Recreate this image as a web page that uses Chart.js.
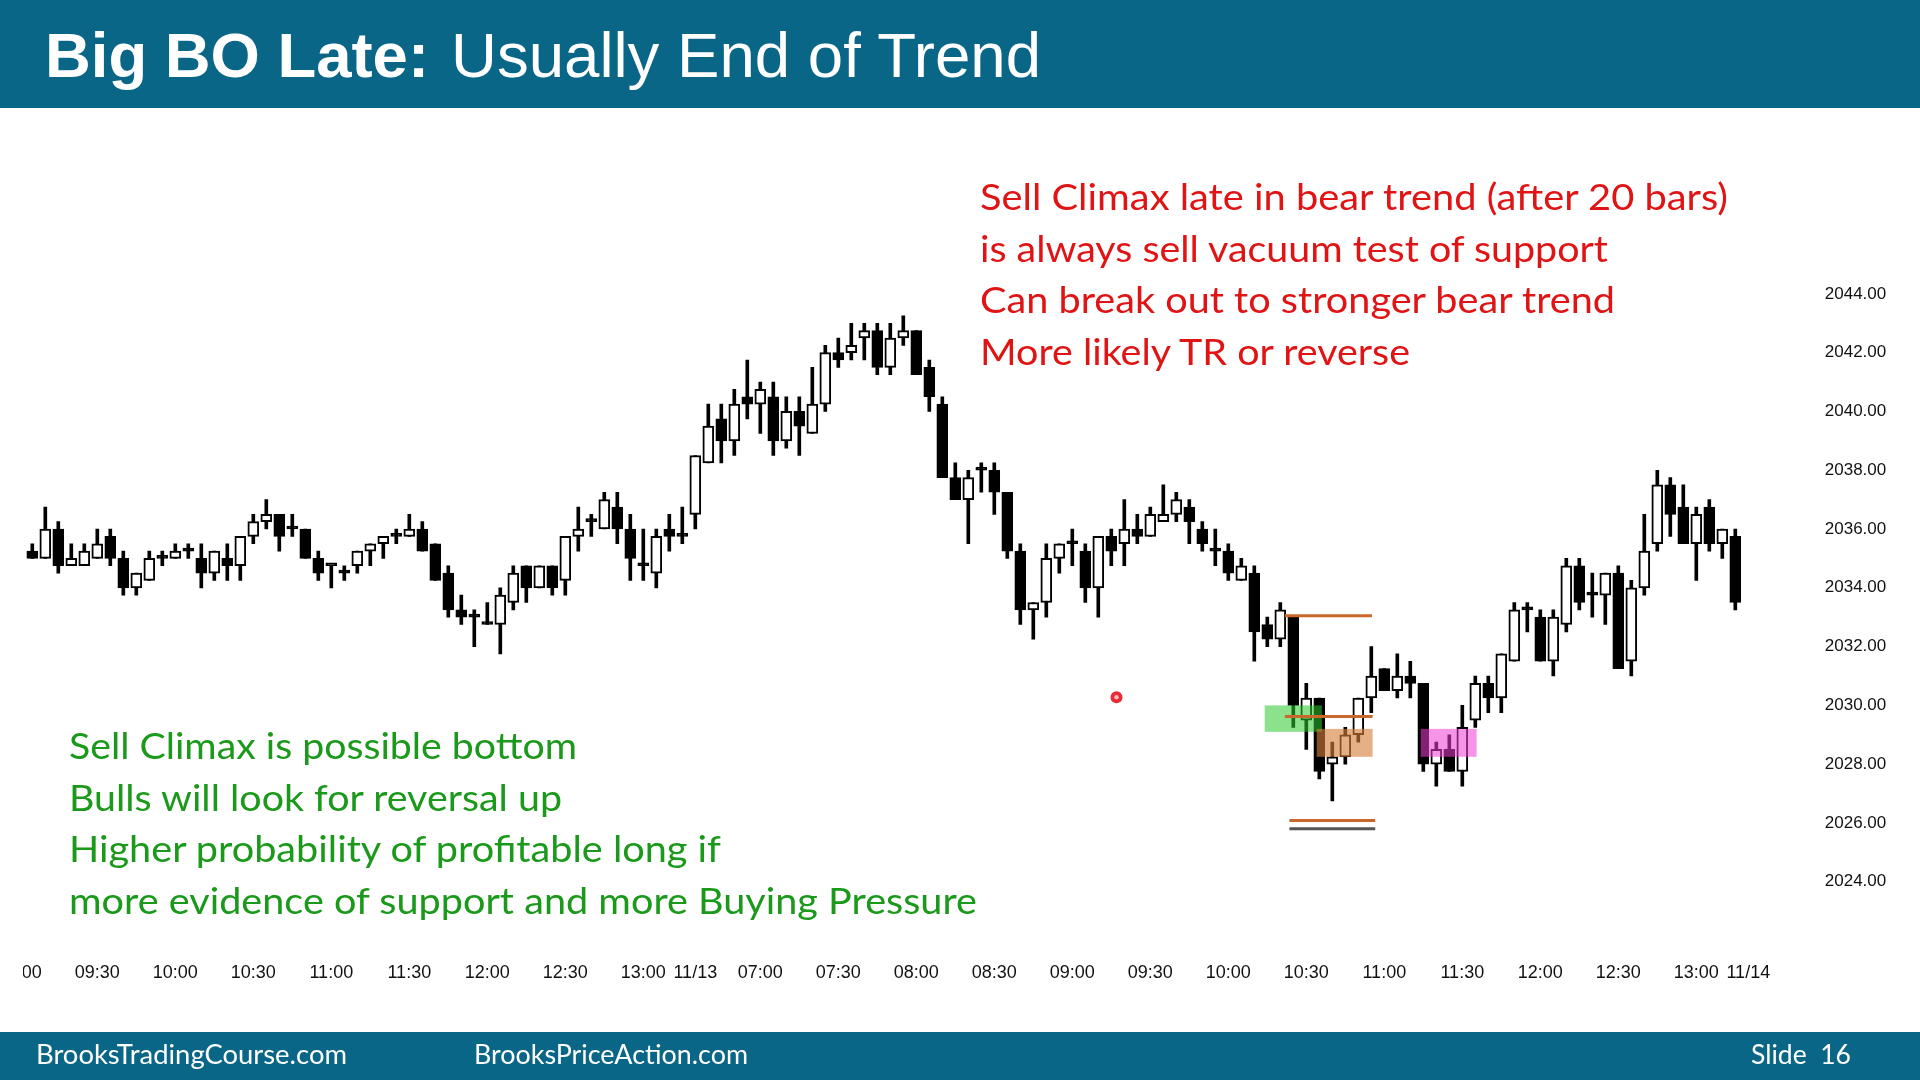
<!DOCTYPE html>
<html><head><meta charset="utf-8">
<script src="https://cdn.jsdelivr.net/npm/chart.js@4.4.1/dist/chart.umd.min.js"></script>
<style>
html,body{margin:0;padding:0;background:#fff;width:1920px;height:1080px;overflow:hidden;}
#header{position:absolute;left:0;top:0;width:1920px;height:108px;background:#0a6686;}
#footer{position:absolute;left:0;top:1032px;width:1920px;height:48px;background:#0a6686;}
#c{position:absolute;left:0;top:0;width:1920px;height:1080px;clip-path:inset(0 0 0 23px);}
#txt{position:absolute;left:0;top:0;}
</style></head><body>
<div id="header"></div><div id="footer"></div>
<canvas id="c" width="1920" height="1080"></canvas>
<svg id="txt" width="1920" height="1080" xmlns="http://www.w3.org/2000/svg">
  <text x="45" y="77" font-family="Liberation Sans, Arial, sans-serif" font-weight="bold" font-size="63" fill="#fff" textLength="384" lengthAdjust="spacingAndGlyphs">Big BO Late:</text>
  <text x="451" y="77" font-family="Liberation Sans, Arial, sans-serif" font-size="63" fill="#fff" textLength="590" lengthAdjust="spacingAndGlyphs">Usually End of Trend</text>

  <g font-family="Lato, 'Open Sans', sans-serif" font-size="37" fill="#e01414">
    <text x="980" y="210" textLength="748" lengthAdjust="spacingAndGlyphs">Sell Climax late in bear trend (after 20 bars)</text>
    <text x="980" y="261.5" textLength="628" lengthAdjust="spacingAndGlyphs">is always sell vacuum test of support</text>
    <text x="980" y="313" textLength="635" lengthAdjust="spacingAndGlyphs">Can break out to stronger bear trend</text>
    <text x="980" y="364.5" textLength="430" lengthAdjust="spacingAndGlyphs">More likely TR or reverse</text>
  </g>
  <g font-family="Lato, 'Open Sans', sans-serif" font-size="37" fill="#1a991a">
    <text x="69" y="759" textLength="508" lengthAdjust="spacingAndGlyphs">Sell Climax is possible bottom</text>
    <text x="69" y="810.5" textLength="493" lengthAdjust="spacingAndGlyphs">Bulls will look for reversal up</text>
    <text x="69" y="862" textLength="652" lengthAdjust="spacingAndGlyphs">Higher probability of profitable long if</text>
    <text x="69" y="913.5" textLength="908" lengthAdjust="spacingAndGlyphs">more evidence of support and more Buying Pressure</text>
  </g>
  <g font-family="Lato, 'Open Sans', sans-serif" font-size="26" fill="#fff">
    <text x="36" y="1064" textLength="311" lengthAdjust="spacingAndGlyphs">BrooksTradingCourse.com</text>
    <text x="474" y="1064" textLength="274" lengthAdjust="spacingAndGlyphs">BrooksPriceAction.com</text>
    <text x="1751" y="1064" textLength="100" lengthAdjust="spacingAndGlyphs" xml:space="preserve">Slide  16</text>
  </g>
</svg>
<script>
// ---------- DATA ----------
// 5-minute bars: 11/12 09:05-13:15 (51 bars) then 11/13 06:35-13:15 (81 bars)
const opens = [
 2035.25,2035.0,2036.0,2034.75,2034.75,2035.0,2035.75,2035.0,2034.0,2034.25,2035.0,2035.0,2035.25,2035.0,2034.5,2035.0,2034.75,2035.75,2036.25,2036.5,2036.0,2036.0,2035.0,2034.75,2034.5,2034.75,
 2035.25,2035.5,2035.75,2035.75,2036.0,2035.5,2034.5,2033.25,2033.0,2032.75,2032.75,2033.5,2034.75,2034.0,2034.75,2034.25,2035.75,2036.25,2036.0,2036.75,2036.0,2034.75,2034.5,2036.0,2035.75,
 2036.5,2038.25,2039.75,2039.0,2040.5,2040.25,2040.5,2039.0,2040.0,2039.25,2040.25,2042.0,2042.0,2042.5,2042.75,2041.5,2042.5,2042.75,2041.5,2040.25,
 2037.75,2037.0,2038.0,2038.0,2037.25,2035.25,2033.25,2033.5,2035.0,2035.5,2035.25,2034.0,2035.75,2035.5,2036.0,2035.75,2036.25,2036.5,2036.75,2036.0,
 2035.25,2035.25,2034.25,2034.5,2032.75,2032.25,2033.0,2029.5,2030.25,2028.0,2028.25,2029.0,2030.25,2031.25,2030.5,2031.0,2030.75,2028.0,2028.5,2027.75,
 2029.5,2030.75,2030.25,2031.5,2033.25,2033.0,2031.5,2032.75,2034.75,2033.75,2033.75,2034.5,2031.5,2034.0,2035.5,2037.5,2036.75,2035.5,2036.75,2035.5,2035.75
];
const highs = [
 2035.5,2036.75,2036.25,2035.5,2035.5,2036.0,2036.0,2035.25,2034.5,2035.25,2035.25,2035.5,2035.5,2035.5,2035.25,2035.5,2035.75,2036.5,2037.0,2036.5,2036.5,2036.0,2035.25,2034.75,2034.75,2035.25,
 2035.5,2035.75,2036.0,2036.5,2036.25,2035.5,2034.75,2033.75,2033.25,2033.5,2034.0,2034.75,2034.75,2034.75,2034.75,2035.75,2036.75,2036.5,2037.25,2037.25,2036.5,2036.0,2036.0,2036.5,2036.75,
 2038.5,2040.25,2040.25,2040.75,2041.75,2041.0,2041.0,2040.5,2040.5,2041.5,2042.25,2042.5,2043.0,2043.0,2043.0,2043.0,2043.25,2042.75,2041.75,2040.5,
 2038.25,2038.0,2038.25,2038.25,2037.25,2035.5,2033.5,2035.5,2035.5,2036.0,2035.5,2035.75,2036.0,2037.0,2036.5,2036.75,2037.5,2037.25,2037.0,2036.25,
 2036.0,2035.5,2035.0,2034.75,2033.0,2033.5,2033.0,2030.75,2030.25,2028.75,2029.25,2030.25,2032.0,2031.25,2031.75,2031.5,2030.75,2028.75,2029.0,2030.0,
 2031.0,2031.0,2031.75,2033.5,2033.5,2033.25,2033.25,2035.0,2035.0,2034.5,2034.5,2034.75,2034.25,2036.5,2038.0,2037.75,2037.5,2036.75,2037.0,2036.0,2036.0
];
const lows = [
 2035.0,2035.0,2034.5,2034.75,2034.75,2035.0,2034.75,2033.75,2033.75,2034.25,2034.75,2035.0,2035.0,2034.0,2034.25,2034.25,2034.25,2035.5,2036.0,2035.25,2035.75,2035.0,2034.25,2034.0,2034.25,2034.5,
 2034.75,2035.0,2035.5,2035.75,2035.25,2034.25,2033.0,2032.75,2032.0,2032.75,2031.75,2033.25,2033.5,2034.0,2033.75,2033.75,2035.25,2035.75,2036.0,2035.5,2034.25,2034.25,2034.0,2035.25,2035.5,
 2036.0,2038.25,2038.25,2038.5,2039.75,2039.25,2038.5,2038.75,2038.5,2039.25,2040.0,2041.5,2041.75,2041.75,2041.25,2041.25,2042.25,2041.25,2040.0,2037.75,
 2037.0,2035.5,2037.25,2036.5,2035.0,2032.75,2032.25,2033.0,2034.5,2034.75,2033.5,2033.0,2034.75,2034.75,2035.5,2035.75,2036.25,2036.25,2035.5,2035.25,
 2034.75,2034.25,2034.25,2031.5,2032.0,2032.0,2029.25,2028.5,2027.5,2026.75,2028.0,2028.75,2029.75,2030.5,2030.25,2030.25,2027.75,2027.25,2027.75,2027.25,
 2029.25,2029.75,2029.75,2031.5,2032.5,2031.5,2031.0,2032.5,2033.25,2033.0,2032.75,2031.25,2031.0,2033.75,2035.25,2035.75,2035.5,2034.25,2035.25,2035.0,2033.25
];
const closes = [
 2035.0,2036.0,2034.75,2035.0,2035.25,2035.5,2035.0,2034.0,2034.5,2035.0,2035.0,2035.25,2035.25,2034.5,2035.25,2034.75,2035.75,2036.25,2036.5,2035.75,2036.0,2035.0,2034.5,2034.75,2034.5,2035.25,
 2035.5,2035.75,2035.75,2036.0,2035.25,2034.25,2033.25,2033.0,2033.0,2032.75,2033.75,2034.5,2034.0,2034.75,2034.0,2035.75,2036.0,2036.25,2037.0,2036.0,2035.0,2034.75,2035.75,2035.75,2035.75,
 2038.5,2039.5,2039.0,2040.25,2040.25,2040.75,2039.0,2040.0,2039.5,2040.25,2042.0,2041.75,2042.25,2042.75,2041.5,2042.5,2042.75,2041.25,2040.5,2037.75,
 2037.0,2037.75,2038.0,2037.25,2035.25,2033.25,2033.5,2035.0,2035.5,2035.5,2034.0,2035.75,2035.25,2036.0,2035.75,2036.5,2036.5,2037.0,2036.25,2035.5,
 2035.25,2034.5,2034.75,2032.5,2032.25,2033.25,2030.0,2030.25,2027.75,2028.25,2029.0,2030.25,2031.0,2030.5,2031.0,2030.75,2028.0,2028.5,2027.75,2029.25,
 2030.75,2030.25,2031.75,2033.25,2033.25,2031.5,2033.0,2034.75,2033.5,2033.75,2034.5,2031.25,2034.0,2035.25,2037.5,2036.5,2035.5,2036.5,2035.5,2036.0,2033.5
];
// price-axis tick labels
const yTicks = [2024,2026,2028,2030,2032,2034,2036,2038,2040,2042,2044];
// time-axis tick labels (category index -> text); category 0 = 09:00 (11/12), 52 = first bar of 11/13, 133 = 11/14
const xTickIdx  = [0,6,12,18,24,30,36,42,48,52,57,63,69,75,81,87,93,99,105,111,117,123,129,133];
const xTickText = ['09:00','09:30','10:00','10:30','11:00','11:30','12:00','12:30','13:00','11/13','07:00','07:30','08:00','08:30','09:00','09:30','10:00','10:30','11:00','11:30','12:00','12:30','13:00','11/14'];
// highlighted zones (category-index span, price span)
const zoneX0 = [95.8, 99.8, 107.8];
const zoneX1 = [100.2, 104.1, 112.1];
const zoneLo = [2029.1, 2028.25, 2028.25];
const zoneHi = [2030.0, 2029.2, 2029.2];
// horizontal level lines (category-index span, price)
const levelX0 = [97.35, 97.35, 97.7, 97.7];
const levelX1 = [104.05, 104.1, 104.3, 104.3];
const levelY  = [2033.05, 2029.62, 2026.08, 2025.8];
// pointer dot (category index, price)
const dotX = 84.4, dotY = 2030.28;

// ---------- BUILD ----------
const cats = [];
(function(){
  function push(h0,m0,h1,m1){ let t=h0*60+m0; const e=h1*60+m1; while(t<=e){ cats.push(String(Math.floor(t/60)).padStart(2,'0')+':'+String(t%60).padStart(2,'0')); t+=5; } }
  push(9,0,13,15); push(6,35,13,15); cats.push('11/14');
})();
const nBars = opens.length;
const bodies = [null], wicks = [null], bodyFill = ['#000'];
for (let i=0;i<nBars;i++){
  bodies.push([opens[i], closes[i]]);
  wicks.push([lows[i], highs[i]]);
  bodyFill.push(closes[i] > opens[i] ? '#ffffff' : '#000000');
}
bodies.push(null); wicks.push(null); bodyFill.push('#000');

const tickMap = {}; xTickIdx.forEach((k,j)=>tickMap[k]=xTickText[j]);

const zoneColors = ['rgba(45,200,45,0.55)','rgba(214,128,60,0.62)','rgba(238,60,212,0.55)'];
const levelColors = ['#c8682c','#c8682c','#c8682c','#555555'];

const overlay = {
  id:'overlay',
  afterDatasetsDraw(chart){
    const {ctx, scales:{x,y}} = chart;
    ctx.save();
    for (let i=0;i<zoneX0.length;i++){
      const a=x.getPixelForValue(zoneX0[i]), b=x.getPixelForValue(zoneX1[i]);
      const t=y.getPixelForValue(zoneHi[i]), u=y.getPixelForValue(zoneLo[i]);
      ctx.fillStyle=zoneColors[i]; ctx.fillRect(a,t,b-a,u-t);
    }
    for (let i=0;i<levelY.length;i++){
      const a=x.getPixelForValue(levelX0[i]), b=x.getPixelForValue(levelX1[i]), v=y.getPixelForValue(levelY[i]);
      ctx.strokeStyle=levelColors[i]; ctx.lineWidth=3;
      ctx.beginPath(); ctx.moveTo(a,v); ctx.lineTo(b,v); ctx.stroke();
    }
    const px=x.getPixelForValue(dotX), py=y.getPixelForValue(dotY);
    ctx.fillStyle='rgba(230,20,30,0.9)'; ctx.beginPath(); ctx.arc(px,py,6,0,Math.PI*2); ctx.fill();
    ctx.fillStyle='#fbb'; ctx.beginPath(); ctx.arc(px,py,2.2,0,Math.PI*2); ctx.fill();
    ctx.restore();
  }
};

const tickFont = {family:"'Liberation Sans Narrow','Arial Narrow','Liberation Sans',Arial,sans-serif", size:18};

new Chart(document.getElementById('c'), {
  type:'bar',
  data:{ labels:cats, datasets:[
    {label:'body', data:bodies, backgroundColor:bodyFill, borderColor:'#000', borderWidth:2, borderSkipped:false,
     barThickness:11, minBarLength:3, grouped:false, order:0},
    {label:'wick', data:wicks, backgroundColor:'#000', borderWidth:0, barThickness:3, grouped:false, order:1}
  ]},
  options:{
    responsive:false, animation:false, devicePixelRatio:1,
    layout:{padding:{left:12.8, right:0.2, top:235.1, bottom:79.5}},
    plugins:{legend:{display:false}, tooltip:{enabled:false}},
    scales:{
      x:{ type:'category', offset:true, grid:{display:false, drawTicks:false}, border:{display:false},
          ticks:{autoSkip:false, maxRotation:0, minRotation:0, padding:22, color:'#111', font:tickFont,
                 callback:(v)=> tickMap[v] !== undefined ? tickMap[v] : ''},
          afterFit:(s)=>{ s.height = 60; s.paddingLeft = 0; s.paddingRight = 0; } },
      y:{ position:'right', min:2022, max:2046, grid:{display:false, drawTicks:false}, border:{display:false},
          afterBuildTicks:(s)=>{ s.ticks = yTicks.map(v=>({value:v})); },
          ticks:{padding:70, color:'#111', font:{family:"'Liberation Sans',Arial,sans-serif", size:17},
                 callback:(v)=> Number(v).toFixed(2)},
          afterFit:(s)=>{ s.width = 165; s.paddingTop = 0; s.paddingBottom = 0; } }
    }
  },
  plugins:[overlay]
});
</script>
</body></html>
